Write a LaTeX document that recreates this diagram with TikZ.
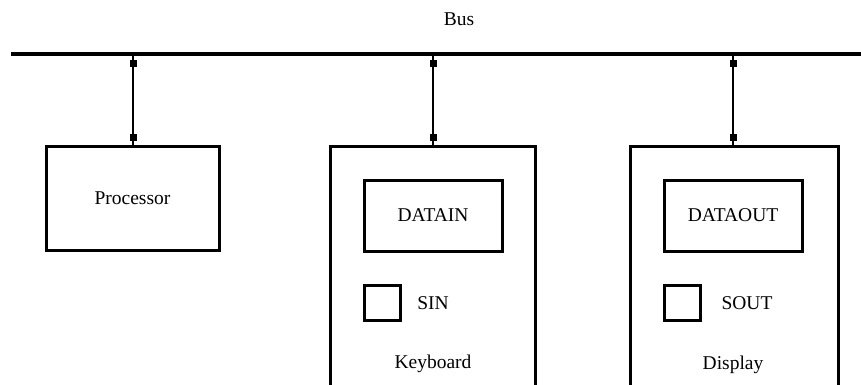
\documentclass[tikz,border=0pt]{standalone}
\usepackage{fontspec}
\setmainfont{Liberation Serif}
\usetikzlibrary{arrows.meta}
\begin{document}
\begin{tikzpicture}[x=1pt,y=-1pt,
  font=\fontsize{19.5}{22}\selectfont,
  box/.style={draw,line width=3pt,inner sep=0pt,minimum width=#1},
  wire/.style={line width=1.8pt},
  link/.style={line width=1.8pt,{Square[length=7pt,width=7pt,sep=4pt]}-{Square[length=7pt,width=7pt,sep=4pt]}},
  lbl/.style={inner sep=0pt}]
\useasboundingbox (0,0) rectangle (861,385);
\clip (0,0) rectangle (861,385);
% bus
\coordinate (busL) at (11,54.5);
\coordinate (busR) at (870,54.5);
\draw[line width=4pt] (busL) -- (busR);
\node[lbl] (buslbl) at (459,19) {Bus};
% processor
\node[box=173pt,minimum height=104pt] (proc) at (132.5,198) {Processor};
% keyboard
\node[box=205pt,minimum height=284pt] (kbd) at (432.5,288) {};
\node[box=138pt,minimum height=71pt] (datain) at (433,215.5) {DATAIN};
\node[box=36pt,minimum height=35pt] (sin) at (382,302.5) {};
\node[lbl] (sinlbl) at (433,303) {SIN};
\node[lbl] (kbdlbl) at (433,364) {Keyboard};
% display
\node[box=208pt,minimum height=284pt] (disp) at (734,288) {};
\node[box=138pt,minimum height=71pt] (dataout) at (733,215.5) {DATAOUT};
\node[box=36pt,minimum height=35pt] (sout) at (682,302.5) {};
\node[lbl] (soutlbl) at (747,303) {SOUT};
\node[lbl] (displbl) at (733,365) {Display};
% connectors
\coordinate (t1) at (133,56.5);
\coordinate (t2) at (433,56.5);
\coordinate (t3) at (733,56.5);
\coordinate (p1) at (133,144.5);
\coordinate (p2) at (433,144.5);
\coordinate (p3) at (733,144.5);
\draw[wire] (t1) -- (p1);
\draw[wire] (t2) -- (p2);
\draw[wire] (t3) -- (p3);
\draw[link] (t1) -- (p1);
\draw[link] (t2) -- (p2);
\draw[link] (t3) -- (p3);
\end{tikzpicture}
\end{document}
